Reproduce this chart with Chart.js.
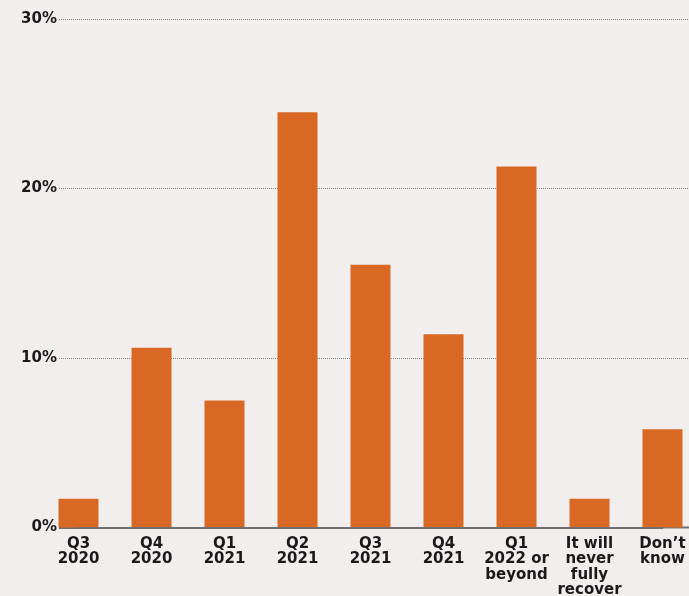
<!DOCTYPE html>
<html>
<head>
<meta charset="utf-8">
<script src="https://cdn.jsdelivr.net/npm/chart.js@4/dist/chart.umd.min.js"></script>
<style>
  html, body { margin: 0; padding: 0; background: #f2eeed; overflow: hidden; }
  #wrap { width: 689px; height: 596px; position: relative; }
</style>
</head>
<body>
<div id="wrap"><canvas id="recoveryChart"></canvas></div>
<script>
// categories (multi-line labels)
const categories = [
  ['Q3', '2020'],
  ['Q4', '2020'],
  ['Q1', '2021'],
  ['Q2', '2021'],
  ['Q3', '2021'],
  ['Q4', '2021'],
  ['Q1', '2022 or', 'beyond'],
  ['It will', 'never', 'fully', 'recover'],
  ['Don’t', 'know']
];

// share of respondents, %
const shares = [1.7, 10.6, 7.5, 24.5, 15.5, 11.4, 21.3, 1.7, 5.8];

const yTicks = [0, 10, 20, 30];

const ORANGE = '#da6825';
const INK = '#1a1a1a';
const AXIS = '#707070';
const DOTS = '#858585';
const FONT = { family: 'DejaVu Sans', weight: 'bold', size: 15, lineHeight: 1.02 };

function loadChart() {
  const canvas = document.getElementById('recoveryChart');
  if (!canvas) {
    console.error('recoveryChart canvas not found');
    return;
  }

  const data = {
    labels: categories,
    datasets: [{
      data: shares,
      backgroundColor: ORANGE,
      borderWidth: 0,
      categoryPercentage: 1,
      barPercentage: 0.548,
      clip: false
    }]
  };

  const isZero = (ctx) => ctx.tick && ctx.tick.value === 0;

  const config = {
    type: 'bar',
    data,
    options: {
      responsive: true,
      maintainAspectRatio: false,
      animation: false,
      layout: { padding: { top: 19, left: 0, right: 0, bottom: 0 } },
      plugins: {
        legend: { display: false },
        tooltip: { enabled: false }
      },
      scales: {
        x: {
          offset: false,
          grid: { drawOnChartArea: false, drawTicks: false },
          border: { display: true, color: AXIS, width: 2, z: 1 },
          ticks: {
            color: INK,
            font: FONT,
            padding: 9,
            autoSkip: false,
            maxRotation: 0
          },
          afterFit: (s) => {
            s.height = 68.5;
            // labels may hang over the edges, don't shrink the plot for them
            s.paddingLeft = 0;
            s.paddingRight = 0;
          }
        },
        y: {
          min: 0,
          max: 30,
          afterBuildTicks: (s) => { s.ticks = yTicks.map(v => ({ value: v })); },
          border: { display: false, dash: [1, 1] },
          grid: {
            color: DOTS,
            lineWidth: (ctx) => isZero(ctx) ? 0 : 1,
            drawTicks: true,
            tickLength: 19.5,
            tickColor: (ctx) => isZero(ctx) ? AXIS : DOTS,
            tickWidth: (ctx) => isZero(ctx) ? 2 : 1,
            tickBorderDash: (ctx) => isZero(ctx) ? [] : [1, 1]
          },
          ticks: {
            color: INK,
            font: FONT,
            padding: 2,
            callback: (v) => v + '%'
          },
          afterFit: (s) => { s.width = 78.5; }
        },
        yRight: {
          position: 'right',
          min: 0,
          max: 30,
          afterBuildTicks: (s) => { s.ticks = yTicks.map(v => ({ value: v })); },
          border: { display: false },
          grid: {
            drawOnChartArea: false,
            drawTicks: true,
            tickLength: 26.5,
            tickColor: (ctx) => isZero(ctx) ? AXIS : DOTS,
            tickWidth: (ctx) => isZero(ctx) ? 2 : 1,
            tickBorderDash: (ctx) => isZero(ctx) ? [] : [1, 1]
          },
          ticks: { display: false },
          afterFit: (s) => { s.width = 26.5; }
        }
      }
    }
  };

  new Chart(canvas.getContext('2d'), config);
}

document.addEventListener('DOMContentLoaded', loadChart);
</script>
</body>
</html>
